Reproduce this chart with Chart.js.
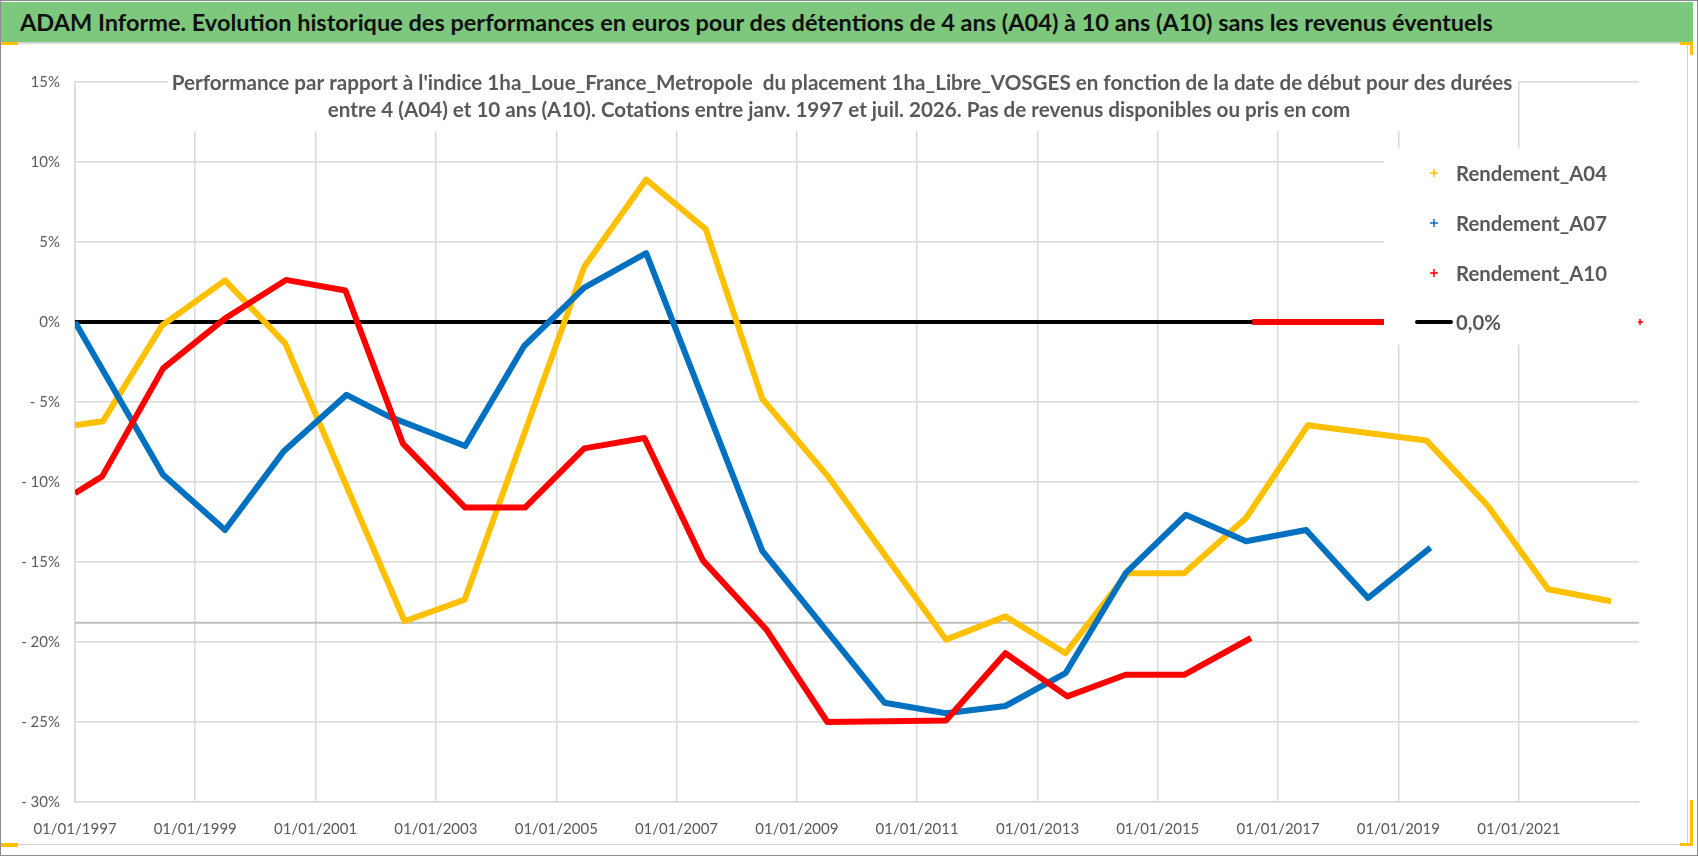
<!DOCTYPE html>
<html lang="fr">
<head>
<meta charset="UTF-8">
<title>ADAM Informe - performances A04 à A10</title>
<script src="https://cdn.jsdelivr.net/npm/chart.js"></script>
<style>
  html, body { margin: 0; padding: 0; background: #fff; }
  #page { position: relative; width: 1698px; height: 856px; overflow: hidden; font-family: Lato, "Liberation Sans", sans-serif; }
  #bandeau { position: absolute; left: 1px; top: 2px; width: 1692px; height: 40px; background: #7ec87e; color: #111;
             font-weight: bold; font-size: 24px; line-height: 40px; padding-left: 19px; box-sizing: border-box; white-space: nowrap; }
  #filet { position: absolute; left: 1px; top: 42px; width: 1692px; height: 2px; background: #d6d6d6; }
  #cadre { position: absolute; left: 1px; top: 44px; width: 1686px; height: 800px; border-right: 1px solid #d0d0d0; border-bottom: 1px solid #d0d0d0; }
  #bord { position: absolute; left: 0; top: 0; width: 1698px; height: 856px; box-sizing: border-box; border: 1px solid #8c8c8c; pointer-events: none; }
  canvas { position: absolute; left: 0; top: 0; }
  .poignee { position: absolute; background: #ffc000; }
</style>
</head>
<body>
<div id="page">
  <div id="cadre"></div>
  <canvas id="graphe" width="1698" height="856"></canvas>
  <div id="bandeau">ADAM Informe. Evolution historique des performances en euros pour des détentions de 4 ans (A04) à 10 ans (A10) sans les revenus éventuels</div>
  <div id="filet"></div>
  <div class="poignee" style="left:1px;top:42px;width:17px;height:3px"></div>
  <div class="poignee" style="left:1680px;top:42px;width:13px;height:3px"></div>
  <div class="poignee" style="left:1690px;top:42px;width:3px;height:13px"></div>
  <div class="poignee" style="left:1690px;top:800px;width:3px;height:46px"></div>
  <div class="poignee" style="left:1680px;top:843px;width:13px;height:3px"></div>
  <div class="poignee" style="left:1px;top:843px;width:17px;height:4px"></div>
  <div id="bord"></div>
</div>
<script>
// textes
const titre = [
    "Performance par rapport à l'indice 1ha_Loue_France_Metropole  du placement 1ha_Libre_VOSGES en fonction de la date de début pour des durées",
    "entre 4 (A04) et 10 ans (A10). Cotations entre janv. 1997 et juil. 2026. Pas de revenus disponibles ou pris en com"
];
const nomsSeries = ['Rendement_A04', 'Rendement_A07', 'Rendement_A10', '0,0%'];
const couleurs = ['#ffc000', '#0070c0', '#ff0000', '#000000'];

// axes
const debutAxe = '1997-01-01';
const finAxe = '2023-01-01';
const anneesTicks = [1997, 1999, 2001, 2003, 2005, 2007, 2009, 2011, 2013, 2015, 2017, 2019, 2021];
const axeCroisement = -18.8;   // l'axe horizontal coupe à cette valeur

// Rendement_A04 (%)
const datesA04 = ['1997-01-01','1997-06-20','1998-06-15','1999-07-01','2000-07-01','2002-06-25','2003-06-25',
                  '2005-06-20','2006-07-01','2007-06-28','2008-06-05','2009-07-05','2011-06-25','2012-06-20',
                  '2013-06-20','2014-07-01','2015-06-10','2016-06-20','2017-07-01','2019-06-20','2020-06-28',
                  '2021-06-28','2022-07-15'];
const rendA04  = [-6.45, -6.2, -0.2, 2.6, -1.35, -18.7, -17.35,
                  3.45, 8.9, 5.8, -4.8, -9.6, -19.85, -18.4,
                  -20.7, -15.7, -15.7, -12.25, -6.45, -7.4, -11.5,
                  -16.7, -17.45];

// Rendement_A07 (%)
const datesA07 = ['1997-01-01','1998-06-20','1999-07-01','2000-06-20','2001-07-08','2002-03-20','2003-06-28',
                  '2004-06-20','2005-06-20','2006-07-01','2008-06-05','2010-06-18','2011-06-25','2012-06-20',
                  '2013-06-20','2014-06-20','2015-06-20','2016-06-20','2017-06-20','2018-07-01','2019-07-15'];
const rendA07  = [0, -9.55, -13.0, -8.1, -4.55, -5.9, -7.75,
                  -1.5, 2.15, 4.3, -14.3, -23.8, -24.45, -24.0,
                  -21.95, -15.7, -12.05, -13.7, -13.0, -17.25, -14.1];

// Rendement_A10 (%) ; null = rupture avant la partie à 0
const datesA10 = ['1997-01-01','1997-06-15','1998-06-20','1999-06-28','2000-07-05','2001-07-01','2002-06-15',
                  '2003-06-28','2004-06-25','2005-06-20','2006-06-20','2007-06-10','2008-06-28','2009-07-05',
                  '2011-06-25','2012-06-20','2013-07-01','2014-06-20','2015-06-10','2016-07-20',
                  '2016-07-25','2016-07-28','2023-01-01'];
const rendA10  = [-10.7, -9.65, -2.9, 0.2, 2.63, 1.97, -7.6,
                  -11.6, -11.6, -7.9, -7.25, -14.9, -19.2, -25.0,
                  -24.9, -20.7, -23.4, -22.05, -22.05, -19.75,
                  null, 0, 0];

// ligne 0,0 %
const datesZero = ['1997-01-01', '2023-01-01'];
const valZero = [0, 0];

const pts = (d, v) => d.map((s, i) => ({ x: Date.parse(s), y: v[i] }));
const pctTxt = v => v >= 0 ? v + '%' : '- ' + (-v) + '%';
const police = 'Lato, "Liberation Sans", sans-serif';

// réduit/agrandit la taille pour qu'un texte occupe une largeur donnée
function tailleAjustee(ctx, txt, largeur, poids, base) {
    ctx.font = poids + ' ' + base + 'px ' + police;
    return base * largeur / ctx.measureText(txt).width;
}

const habillage = {
    id: 'habillage',
    beforeDatasetsDraw(chart) {
        const { ctx, chartArea: a, scales: { y } } = chart;
        ctx.save();
        const ya = y.getPixelForValue(axeCroisement);
        ctx.strokeStyle = '#bfbfbf';
        ctx.lineWidth = 2;
        ctx.beginPath(); ctx.moveTo(a.left, ya); ctx.lineTo(a.right, ya); ctx.stroke();
        // bloc titre sur fond blanc
        ctx.fillStyle = '#fff';
        ctx.fillRect(168, 56, 1350, 75);
        const t = tailleAjustee(ctx, titre[0], 1341, 'bold', 20);
        ctx.font = 'bold ' + t + 'px ' + police;
        ctx.fillStyle = '#595959';
        ctx.textAlign = 'center';
        ctx.textBaseline = 'middle';
        ctx.fillText(titre[0], 842, 83);
        ctx.fillText(titre[1], 839, 110);
        ctx.restore();
    },
    afterDatasetsDraw(chart) {
        const { ctx } = chart;
        ctx.save();
        ctx.fillStyle = '#fff';
        ctx.fillRect(1384, 148, 262, 197);
        const t = tailleAjustee(ctx, nomsSeries[0], 151, 'bold', 22);
        ctx.font = 'bold ' + t + 'px ' + police;
        ctx.textBaseline = 'middle';
        ctx.textAlign = 'left';
        const lignes = [173, 223, 273, 322];
        nomsSeries.forEach((nom, i) => {
            const yy = lignes[i];
            if (i < 3) {
                ctx.strokeStyle = couleurs[i];
                ctx.lineWidth = 1.5;
                ctx.beginPath();
                ctx.moveTo(1430, yy); ctx.lineTo(1438, yy);
                ctx.moveTo(1434, yy - 4); ctx.lineTo(1434, yy + 4);
                ctx.stroke();
            } else {
                ctx.strokeStyle = couleurs[3];
                ctx.lineWidth = 4;
                ctx.lineCap = 'round';
                ctx.beginPath(); ctx.moveTo(1417, yy); ctx.lineTo(1451, yy); ctx.stroke();
                ctx.lineCap = 'butt';
                ctx.strokeStyle = couleurs[2];
                ctx.lineWidth = 1.5;
                ctx.beginPath();
                ctx.moveTo(1638, yy); ctx.lineTo(1643, yy);
                ctx.moveTo(1640, yy - 3); ctx.lineTo(1640, yy + 3);
                ctx.stroke();
            }
            ctx.fillStyle = '#595959';
            ctx.fillText(nom, 1456, yy + 1);
        });
        ctx.restore();
    }
};

const serie = (label, data, couleur, largeur, ordre) => ({
    label, data, borderColor: couleur, backgroundColor: couleur, borderWidth: largeur,
    pointRadius: 0, tension: 0, spanGaps: false, borderJoinStyle: 'round', order: ordre
});

new Chart(document.getElementById('graphe').getContext('2d'), {
    type: 'line',
    data: {
        datasets: [
            serie(nomsSeries[0], pts(datesA04, rendA04), couleurs[0], 6, 3),
            serie(nomsSeries[1], pts(datesA07, rendA07), couleurs[1], 6, 2),
            serie(nomsSeries[2], pts(datesA10, rendA10), couleurs[2], 6, 1),
            serie(nomsSeries[3], pts(datesZero, valZero), couleurs[3], 4, 4)
        ]
    },
    options: {
        responsive: false,
        animation: false,
        layout: { padding: { left: 0, top: 82, right: 59, bottom: 0 } },
        plugins: { legend: { display: false }, tooltip: { enabled: false } },
        scales: {
            x: {
                type: 'linear',
                min: Date.parse(debutAxe),
                max: Date.parse(finAxe),
                afterBuildTicks: s => { s.ticks = anneesTicks.map(a => ({ value: Date.UTC(a, 0, 1) })); },
                afterFit: s => { s.height = 54; },
                grid: { color: '#d9d9d9', lineWidth: 1.5, drawTicks: false },
                border: { color: '#d9d9d9', width: 1.5 },
                ticks: {
                    autoSkip: false, maxRotation: 0, padding: 18, color: '#595959',
                    font: { family: police, size: 15 },
                    callback: v => '01/01/' + new Date(v).getUTCFullYear()
                }
            },
            y: {
                min: -30, max: 15,
                afterFit: s => { s.width = 75; },
                grid: { color: '#d9d9d9', lineWidth: 1.5, drawTicks: false },
                border: { color: '#d9d9d9', width: 1.5 },
                ticks: {
                    stepSize: 5, padding: 15, color: '#595959',
                    font: { family: police, size: 15 },
                    callback: pctTxt
                }
            }
        }
    },
    plugins: [habillage]
});

// bandeau : même largeur de texte que la référence
(function () {
    const b = document.getElementById('bandeau');
    const c = document.createElement('canvas').getContext('2d');
    const t = tailleAjustee(c, b.textContent, 1474, 'bold', 24);
    b.style.fontSize = t.toFixed(2) + 'px';
})();
</script>
</body>
</html>
